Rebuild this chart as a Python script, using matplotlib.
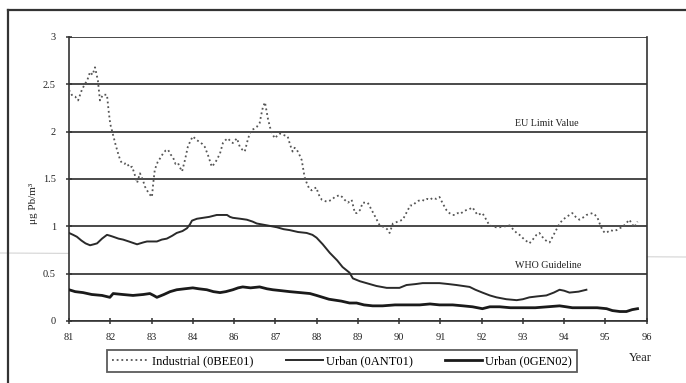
import matplotlib
matplotlib.use("Agg")
import matplotlib.pyplot as plt
from matplotlib.lines import Line2D

plt.rcParams["font.family"] = ["Liberation Serif", "DejaVu Serif"]

# year tick labels, one per axis unit
year_labels = ["81", "82", "83", "84", "86", "87", "88", "89", "90", "91",
               "92", "93", "94", "95", "96"]

# Industrial site (0BEE01), positions in axis units from 81
ind_x = [0.00, 0.08, 0.15, 0.22, 0.31, 0.38, 0.44, 0.51, 0.57, 0.63, 0.70, 0.75,
         0.82, 0.88, 0.92, 0.96, 1.00, 1.07, 1.13, 1.19, 1.24, 1.28, 1.34, 1.40,
         1.47, 1.53, 1.59, 1.65, 1.72, 1.79, 1.84, 1.89, 1.95, 2.01, 2.04, 2.08,
         2.15, 2.21, 2.28, 2.34, 2.40, 2.46, 2.52, 2.58, 2.64, 2.69, 2.74, 2.81,
         2.88, 2.94, 3.00, 3.05, 3.10, 3.17, 3.23, 3.29, 3.37, 3.46, 3.52, 3.58,
         3.66, 3.73, 3.79, 3.85, 3.91, 3.97, 4.03, 4.07, 4.14, 4.20, 4.26, 4.33,
         4.38, 4.43, 4.49, 4.55, 4.62, 4.66, 4.70, 4.75, 4.82, 4.87, 4.92, 4.99,
         5.05, 5.11, 5.17, 5.23, 5.30, 5.36, 5.42, 5.47, 5.52, 5.58, 5.64, 5.71,
         5.76, 5.82, 5.88, 5.94, 6.00, 6.03, 6.08, 6.13, 6.19, 6.25, 6.31, 6.37,
         6.44, 6.50, 6.56, 6.62, 6.68, 6.76, 6.85, 6.93, 6.97, 7.05, 7.12, 7.18,
         7.24, 7.34, 7.40, 7.46, 7.53, 7.59, 7.65, 7.71, 7.77, 7.85, 7.91, 7.97,
         8.03, 8.09, 8.15, 8.21, 8.27, 8.33, 8.40, 8.47, 8.55, 8.62, 8.68, 8.75,
         8.81, 8.90, 8.98, 9.06, 9.15, 9.22, 9.29, 9.35, 9.42, 9.48, 9.54, 9.62,
         9.70, 9.78, 9.84, 9.90, 9.96, 10.02, 10.10, 10.19, 10.27, 10.35, 10.44,
         10.52, 10.60, 10.68, 10.76, 10.85, 10.92, 10.99, 11.07, 11.16, 11.24,
         11.33, 11.40, 11.47, 11.53, 11.59, 11.65, 11.71, 11.77, 11.83, 11.89,
         11.97, 12.06, 12.13, 12.20, 12.28, 12.37, 12.45, 12.54, 12.62, 12.69,
         12.75, 12.81, 12.87, 12.93, 12.99, 13.05, 13.12, 13.20, 13.27, 13.34,
         13.41, 13.50, 13.58, 13.64, 13.70, 13.78]
ind_y = [2.44, 2.38, 2.37, 2.33, 2.44, 2.50, 2.54, 2.63, 2.60, 2.68, 2.54, 2.33,
         2.39, 2.39, 2.39, 2.22, 2.08, 1.96, 1.86, 1.77, 1.70, 1.67, 1.66, 1.67,
         1.62, 1.63, 1.55, 1.46, 1.56, 1.49, 1.42, 1.38, 1.34, 1.31, 1.45, 1.60,
         1.68, 1.72, 1.77, 1.80, 1.81, 1.76, 1.73, 1.66, 1.67, 1.62, 1.58, 1.70,
         1.84, 1.90, 1.95, 1.93, 1.91, 1.89, 1.87, 1.84, 1.75, 1.63, 1.66, 1.70,
         1.77, 1.88, 1.91, 1.93, 1.90, 1.88, 1.91, 1.93, 1.84, 1.81, 1.79, 1.91,
         1.98, 2.02, 2.03, 2.05, 2.09, 2.18, 2.26, 2.31, 2.14, 2.05, 1.98, 1.93,
         1.96, 1.98, 1.97, 1.96, 1.95, 1.86, 1.79, 1.83, 1.81, 1.76, 1.70, 1.52,
         1.46, 1.40, 1.38, 1.40, 1.41, 1.36, 1.31, 1.28, 1.27, 1.26, 1.27, 1.28,
         1.31, 1.32, 1.33, 1.31, 1.28, 1.25, 1.28, 1.14, 1.14, 1.17, 1.25, 1.25,
         1.25, 1.17, 1.12, 1.07, 1.01, 1.00, 0.99, 0.97, 0.93, 1.03, 1.04, 1.05,
         1.06, 1.07, 1.12, 1.17, 1.22, 1.22, 1.25, 1.27, 1.28, 1.27, 1.29, 1.28,
         1.30, 1.29, 1.31, 1.24, 1.17, 1.14, 1.12, 1.12, 1.14, 1.13, 1.15, 1.17,
         1.18, 1.20, 1.16, 1.12, 1.13, 1.14, 1.08, 1.01, 1.00, 0.99, 0.99,
         1.00, 1.00, 1.01, 0.97, 0.93, 0.91, 0.88, 0.85, 0.82, 0.86,
         0.91, 0.93, 0.89, 0.86, 0.84, 0.83, 0.88, 0.93, 0.98, 1.03,
         1.07, 1.10, 1.12, 1.14, 1.10, 1.07, 1.09, 1.12, 1.13, 1.14,
         1.12, 1.09, 1.02, 0.96, 0.93, 0.94, 0.96, 0.95, 0.96, 0.98,
         0.99, 1.03, 1.07, 1.03, 0.99, 1.05]

# Urban site (0ANT01)
ant_x = [0.00, 0.10, 0.19, 0.30, 0.40, 0.51, 0.60, 0.68, 0.80, 0.92, 1.00, 1.07,
         1.20, 1.31, 1.45, 1.65, 1.80, 1.89, 2.00, 2.13, 2.25, 2.37, 2.50, 2.61,
         2.75, 2.86, 2.93, 2.98, 3.10, 3.25, 3.40, 3.58, 3.70, 3.83, 3.90, 3.97,
         4.15, 4.31, 4.45, 4.55, 4.80, 5.04, 5.20, 5.35, 5.55, 5.76, 5.90, 6.00,
         6.15, 6.32, 6.50, 6.63, 6.80, 6.88, 7.05, 7.21, 7.45, 7.70, 8.01, 8.18,
         8.40, 8.57, 8.80, 8.98, 9.20, 9.39, 9.55, 9.71, 9.85, 10.02, 10.20,
         10.36, 10.60, 10.85, 11.00, 11.16, 11.35, 11.57, 11.75, 11.89, 12.00,
         12.13, 12.35, 12.54]
ant_y = [0.93, 0.91, 0.89, 0.85, 0.82, 0.80, 0.81, 0.82, 0.87, 0.91, 0.90, 0.89,
         0.87, 0.86, 0.84, 0.81, 0.83, 0.84, 0.84, 0.84, 0.86, 0.87, 0.90, 0.93,
         0.95, 0.98, 1.02, 1.06, 1.08, 1.09, 1.10, 1.12, 1.12, 1.12, 1.10, 1.09,
         1.08, 1.07, 1.05, 1.03, 1.01, 0.99, 0.97, 0.96, 0.94, 0.93, 0.91, 0.88,
         0.81, 0.72, 0.64, 0.57, 0.51, 0.45, 0.42, 0.40, 0.37, 0.35, 0.35, 0.38,
         0.39, 0.40, 0.40, 0.40, 0.39, 0.38, 0.37, 0.36, 0.33, 0.30, 0.27,
         0.25, 0.23, 0.22, 0.23, 0.25, 0.26, 0.27, 0.30, 0.33, 0.32,
         0.30, 0.31, 0.33]

# Urban site (0GEN02)
gen_x = [0.00, 0.15, 0.34, 0.55, 0.80, 0.99, 1.07, 1.30, 1.55, 1.80, 1.96, 2.05,
         2.13, 2.30, 2.45, 2.61, 2.80, 3.00, 3.15, 3.34, 3.50, 3.66, 3.80, 3.97,
         4.10, 4.21, 4.40, 4.62, 4.80, 4.94, 5.15, 5.35, 5.60, 5.84, 6.00, 6.15,
         6.30, 6.45, 6.60, 6.80, 6.97, 7.15, 7.36, 7.60, 7.90, 8.18, 8.50, 8.75,
         8.98, 9.30, 9.55, 9.78, 10.02, 10.20, 10.44, 10.70, 10.99, 11.30, 11.60,
         11.89, 12.05, 12.20, 12.50, 12.80, 13.03, 13.17, 13.35, 13.51, 13.65,
         13.78]
gen_y = [0.33, 0.31, 0.30, 0.28, 0.27, 0.25, 0.29, 0.28, 0.27, 0.28, 0.29, 0.27,
         0.25, 0.28, 0.31, 0.33, 0.34, 0.35, 0.34, 0.33, 0.31, 0.30, 0.31, 0.33,
         0.35, 0.36, 0.35, 0.36, 0.34, 0.33, 0.32, 0.31, 0.30, 0.29, 0.27, 0.25,
         0.23, 0.22, 0.21, 0.19, 0.19, 0.17, 0.16, 0.16, 0.17, 0.17, 0.17, 0.18,
         0.17, 0.17, 0.16, 0.15, 0.13, 0.15, 0.15, 0.14, 0.14, 0.14, 0.15,
         0.16, 0.15, 0.14, 0.14, 0.14, 0.13, 0.11, 0.10, 0.10, 0.12,
         0.13]

eu_limit = 2.0
who_guideline = 0.5

dark = "#333333"

fig = plt.figure(figsize=(6.86, 3.83), dpi=100)
ax = fig.add_axes([0.1006, 0.1619, 0.8420, 0.7415])

ax.plot(ind_x, ind_y, color="#555555", lw=1.3, ls=(0, (1, 1.6)),
        label="Industrial (0BEE01)", zorder=3)
ax.plot(ant_x, ant_y, color="#2a2a2a", lw=1.4, label="Urban (0ANT01)", zorder=3)
ax.plot(gen_x, gen_y, color="#1a1a1a", lw=2.0, label="Urban (0GEN02)", zorder=3)

ax.set_xlim(0, 14)
ax.set_ylim(0, 3)
ax.set_xticks(range(len(year_labels)))
ax.set_xticklabels(year_labels)
ax.set_yticks([0, 0.5, 1, 1.5, 2, 2.5, 3])
ax.set_yticklabels(["0", "0.5", "1", "1.5", "2", "2.5", "3"])
ax.yaxis.grid(True, color="#3a3a3a", lw=1.3)
ax.set_axisbelow(True)
ax.tick_params(direction="inout", length=5, width=1.1, color=dark,
               labelsize=7.5, labelcolor="#222222")
ax.tick_params(axis="x", pad=6)
ax.tick_params(axis="y", pad=7)
for side in ["left", "bottom", "right"]:
    ax.spines[side].set_color(dark)
    ax.spines[side].set_linewidth(1.2)
ax.spines["top"].set_visible(False)

ax.text(10.8, eu_limit + 0.06, "EU Limit Value", fontsize=7.2, color="#222222")
ax.text(10.8, who_guideline + 0.06, "WHO Guideline", fontsize=7.2, color="#222222")

fig.text(0.049, 0.47, "μg Pb/m³", rotation=90, fontsize=8,
         ha="center", va="center", color="#222222")
fig.text(0.933, 0.065, "Year", fontsize=9, ha="center", va="center",
         color="#222222")

leg = fig.legend(loc="center", bbox_to_anchor=(0.498, 0.057), ncol=3,
                 fontsize=9, frameon=True, fancybox=False, handlelength=3.0,
                 columnspacing=2.6, borderpad=0.4, handletextpad=0.2)
leg.get_frame().set_edgecolor(dark)
leg.get_frame().set_linewidth(1.3)

# outer page frame and a faint scanner streak
fig.add_artist(Line2D([8 / 686, 8 / 686], [0, 1 - 10 / 383],
                      transform=fig.transFigure, color=dark, lw=1.6))
fig.add_artist(Line2D([8 / 686, 1], [1 - 10 / 383, 1 - 10 / 383],
                      transform=fig.transFigure, color=dark, lw=1.6))
fig.add_artist(Line2D([0, 1], [1 - 253 / 383, 1 - 257 / 383],
                      transform=fig.transFigure, color="#d4d4d4", lw=0.8,
                      zorder=0))

fig.savefig("out.png", dpi=100)
